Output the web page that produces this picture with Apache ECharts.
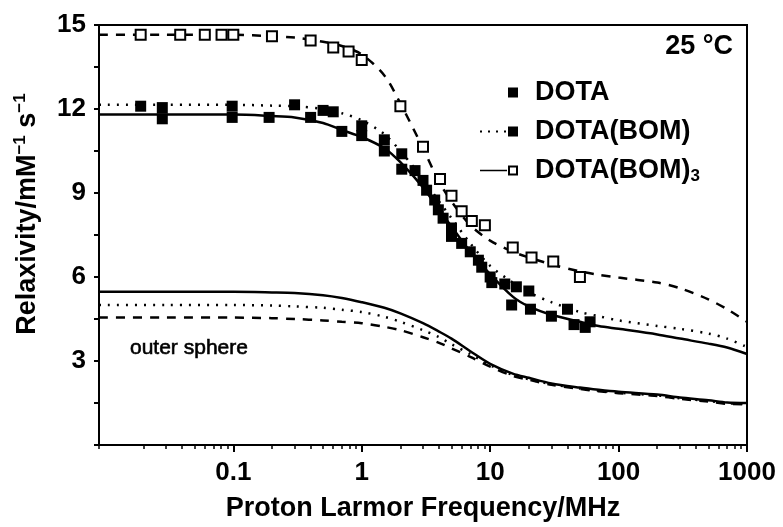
<!DOCTYPE html>
<html><head><meta charset="utf-8">
<script src="https://cdn.jsdelivr.net/npm/echarts@6/dist/echarts.min.js"></script>
<style>html,body{margin:0;padding:0;background:#fff}#c{width:783px;height:527px}</style>
</head><body><div id="c"></div>
<script>
// ---- data ----
const xMajorTicks = [0.1, 1, 10, 100, 1000];
const yTickLabels = [3, 6, 9, 12, 15];

// fitted-curve sample frequencies (MHz)
const fitFreq = [0.009, 0.03, 0.1, 0.2, 0.3, 0.5, 0.7, 1, 1.5, 2, 3, 4, 5, 7, 10, 15, 20, 30, 50, 70, 100, 200, 300, 500, 700, 1000];
const fitBOM3 = [14.65,14.65,14.65,14.6,14.55,14.4,14.25,13.95,13.2,12.2,10.6,9.4,8.7,7.85,7.3,6.9,6.7,6.45,6.2,6.08,5.98,5.8,5.6,5.2,4.85,4.4];
const fitBOM  = [12.15,12.15,12.15,12.12,12.1,12.0,11.85,11.6,11.1,10.5,9.5,8.7,8.1,7.2,6.4,5.8,5.45,5.1,4.75,4.6,4.45,4.25,4.15,3.98,3.8,3.5];
const fitDOTA = [11.8,11.8,11.8,11.75,11.7,11.5,11.25,11.0,10.6,10.1,9.2,8.4,7.8,6.9,6.1,5.3,4.95,4.65,4.4,4.25,4.15,3.95,3.8,3.62,3.48,3.25];
const osSolid  = [5.47,5.47,5.47,5.45,5.43,5.35,5.25,5.1,4.9,4.7,4.35,4.05,3.8,3.35,2.9,2.55,2.4,2.2,2.05,1.97,1.9,1.8,1.7,1.6,1.52,1.5];
const osDotted = [5.0,5.0,5.0,4.98,4.95,4.9,4.83,4.75,4.58,4.4,4.1,3.85,3.6,3.25,2.85,2.5,2.35,2.17,2.02,1.94,1.87,1.77,1.67,1.57,1.49,1.47];
const osDashed = [4.55,4.55,4.55,4.53,4.5,4.45,4.4,4.35,4.22,4.1,3.85,3.65,3.45,3.15,2.8,2.47,2.33,2.15,2.0,1.92,1.85,1.75,1.65,1.55,1.47,1.45];

// measured points
const dotaFreq = [0.028,0.098,0.19,0.4,0.7,1.0,1.5,2.05,2.6,3.2,3.95,5.0,6.0,8.1,10,14.7,20.6,30,45,55];
const dotaR1   = [11.65,11.7,11.7,11.7,11.2,11.05,10.5,9.85,9.8,9.1,8.4,7.75,7.2,6.6,6.0,5.0,4.85,4.6,4.3,4.2];
const bomFreq  = [0.019,0.028,0.098,0.3,0.5,0.6,1.0,1.5,2.05,3.0,3.7,4.3,5.0,7.0,8.6,10.3,13,16,20,40,60];
const bomR1    = [12.1,12.05,12.1,12.15,11.95,11.9,11.4,10.9,10.4,9.45,8.75,8.1,7.45,6.9,6.35,5.8,5.75,5.65,5.5,4.85,4.4];
const bom3Freq = [0.019,0.0386,0.06,0.081,0.1,0.2,0.4,0.6,0.79,1.0,2.0,3.0,4.07,5.0,6.0,7.2,9.1,15,21,31,50];
const bom3R1   = [14.65,14.65,14.65,14.65,14.65,14.6,14.45,14.2,14.05,13.75,12.1,10.65,9.5,8.9,8.35,8.0,7.85,7.05,6.7,6.55,6.0];

// ---- helpers ----
const zip = (xs, ys) => xs.map((x, i) => [x, ys[i]]);
const xMin = 0.009, xMax = 1000;
const xMinorTicks = [];
for (let e = -3; e <= 2; e++) for (let k = 2; k <= 9; k++) {
  const v = +(k * Math.pow(10, e)).toPrecision(6);
  if (v >= xMin && v <= xMax) xMinorTicks.push(v);
}
const FONT = '"Liberation Sans", Arial, sans-serif';
const lineSeries = (name, data, type, width) => ({
  name, type: 'line', data, xAxisIndex: 0, showSymbol: false, symbol: 'none', smooth: 0.3,
  lineStyle: { color: '#000', width, type, opacity: 1 }, z: 2, silent: true
});

const iconDOTA = 'path://M0,5L0.01,5L0.01,5.01Z M28,0L38,0L38,10L28,10Z';
const iconBOM  = 'path://M0,4L2,4L2,6L0,6Z M8,4L10,4L10,6L8,6Z M16,4L18,4L18,6L16,6Z M24,4L26,4L26,6L24,6Z M28,0L38,0L38,10L28,10Z';
const iconBOM3 = 'path://M0,4.2L27,4.2L27,5.8L0,5.8Z M28,0L38,0L38,10L28,10Z M30,2L30,8L36,8L36,2Z';

const chart = echarts.init(document.getElementById('c'), null, { renderer: 'canvas' });
chart.setOption({
  backgroundColor: '#fff',
  animation: false,
  textStyle: { fontFamily: FONT, color: '#000' },
  title: [
    { text: '25 °C', right: 50, top: 33, padding: 0,
      textStyle: { fontFamily: FONT, fontSize: 27, fontWeight: 'bold', color: '#000' } },
    { text: 'outer sphere', left: 130, top: 338, padding: 0,
      textStyle: { fontFamily: FONT, fontSize: 21, fontWeight: 'normal', color: '#000',
        textBorderColor: '#000', textBorderWidth: 0.6 } }
  ],
  legend: {
    orient: 'vertical', left: 480, top: 79, itemGap: 12, itemWidth: 38, itemHeight: 10,
    padding: 0, selectedMode: false,
    data: [
      { name: 'DOTA', icon: iconDOTA, itemStyle: { color: '#000', borderWidth: 0, opacity: 1 } },
      { name: 'DOTA(BOM)', icon: iconBOM, itemStyle: { color: '#000', borderWidth: 0, opacity: 1 } },
      { name: 'DOTA(BOM)3', icon: iconBOM3, itemStyle: { color: '#000', borderWidth: 0, opacity: 1 } }
    ],
    formatter: n => n === 'DOTA(BOM)3' ? '{t|DOTA(BOM)}{s|3}' : '{t|' + n + '}',
    textStyle: {
      fontFamily: FONT, color: '#000',
      rich: {
        t: { fontFamily: FONT, fontSize: 27, fontWeight: 'bold', color: '#000', padding: [0, 0, 0, 12], lineHeight: 28 },
        s: { fontFamily: FONT, fontSize: 17, fontWeight: 'bold', color: '#000', padding: [12, 0, 0, 0] }
      }
    }
  },
  grid: { left: 99, right: 36, top: 25, bottom: 79, show: true, borderColor: '#000', borderWidth: 2, backgroundColor: 'transparent' },
  xAxis: [
    {
      type: 'log', min: xMin, max: xMax, position: 'bottom',
      name: 'Proton Larmor Frequency/MHz', nameLocation: 'middle', nameGap: 50,
      nameTextStyle: { fontFamily: FONT, fontSize: 27, fontWeight: 'bold', color: '#000' },
      axisLine: { show: true, lineStyle: { color: '#000', width: 2 } },
      axisTick: { show: true, inside: false, length: 7, lineStyle: { color: '#000', width: 2 }, customValues: xMajorTicks },
      axisLabel: { show: true, margin: 15, customValues: xMajorTicks, fontFamily: FONT, fontSize: 26, fontWeight: 'bold', color: '#000',
        formatter: v => String(+(+v).toPrecision(6)) },
      splitLine: { show: false }, minorTick: { show: false }
    },
    {
      type: 'log', min: xMin, max: xMax, position: 'bottom',
      axisLine: { show: true, lineStyle: { color: '#000', width: 2 } },
      axisTick: { show: true, length: 4, lineStyle: { color: '#000', width: 1.5 }, customValues: xMinorTicks },
      axisLabel: { show: false }, splitLine: { show: false }
    }
  ],
  yAxis: {
    type: 'value', min: 0, max: 15, interval: 1.5,
    name: '{a|Relaxivity/mM}{b|−1}{a| s}{b|−1}', nameLocation: 'middle', nameRotate: 90, nameGap: 56,
    nameTextStyle: {
      padding: [0, 0, 0, 42],
      rich: {
        a: { fontFamily: FONT, fontSize: 27, fontWeight: 'bold', color: '#000' },
        b: { fontFamily: FONT, fontSize: 17, fontWeight: 'bold', color: '#000', padding: [0, 0, 14, 0] }
      }
    },
    axisLine: { show: true, lineStyle: { color: '#000', width: 2 } },
    axisTick: { show: true, length: 5, lineStyle: { color: '#000', width: 2 } },
    axisLabel: { margin: 13, fontFamily: FONT, fontSize: 26, fontWeight: 'bold', color: '#000',
      formatter: v => (v > 0 && Math.abs(v / 3 - Math.round(v / 3)) < 1e-6 && yTickLabels.indexOf(Math.round(v)) >= 0) ? String(Math.round(v)) : '' },
    splitLine: { show: false }
  },
  series: [
    lineSeries('fit DOTA(BOM)3', zip(fitFreq, fitBOM3), [9, 8], 2.5),
    lineSeries('fit DOTA(BOM)', zip(fitFreq, fitBOM), [2, 7], 2.5),
    lineSeries('fit DOTA', zip(fitFreq, fitDOTA), 'solid', 2.5),
    lineSeries('os solid', zip(fitFreq, osSolid), 'solid', 2.5),
    lineSeries('os dotted', zip(fitFreq, osDotted), [2, 7], 2.5),
    lineSeries('os dashed', zip(fitFreq, osDashed), [9, 8], 2.5),
    { name: 'DOTA', type: 'scatter', data: zip(dotaFreq, dotaR1), symbol: 'rect', symbolSize: 11,
      itemStyle: { color: '#000', opacity: 1 }, z: 5 },
    { name: 'DOTA(BOM)', type: 'scatter', data: zip(bomFreq, bomR1), symbol: 'rect', symbolSize: 11,
      itemStyle: { color: '#000', opacity: 1 }, z: 5 },
    { name: 'DOTA(BOM)3', type: 'scatter', data: zip(bom3Freq, bom3R1), symbol: 'rect', symbolSize: 10,
      itemStyle: { color: '#fff', borderColor: '#000', borderWidth: 2, opacity: 1 }, z: 6 }
  ]
});
</script></body></html>
